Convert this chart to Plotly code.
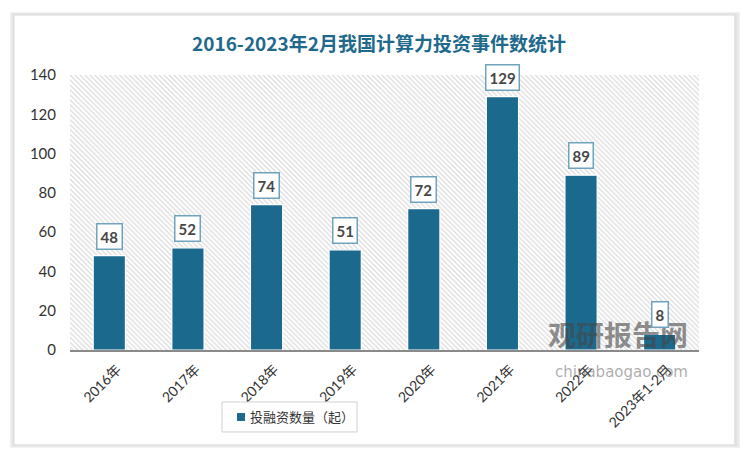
import plotly.graph_objects as go

categories = ["2016年", "2017年", "2018年", "2019年", "2020年", "2021年", "2022年", "2023年1-2月"]
values = [48, 52, 74, 51, 72, 129, 89, 8]
series_name = "投融资数量（起）"
title_text = "2016-2023年2月我国计算力投资事件数统计"
y_ticks = [0, 20, 40, 60, 80, 100, 120, 140]

BAR = "#1B6A8E"
FONT = "Lato, 'Noto Sans CJK SC', sans-serif"

fig = go.Figure()

# hatched plot background (base axes x/y, linear 0..1)
fig.add_trace(go.Bar(
    x=[0.5], y=[140], width=[1], xaxis="x", yaxis="y",
    marker=dict(color="white", line=dict(width=0),
                pattern=dict(shape="\\", fgcolor="#b8b8b8", bgcolor="white", size=3.5, solidity=0.35)),
    showlegend=False, hoverinfo="skip",
))

# data bars on overlaying category axis
fig.add_trace(go.Bar(
    x=categories, y=values, name=series_name, xaxis="x2", yaxis="y",
    width=0.41, showlegend=False,
    marker=dict(color=BAR, line=dict(color="white", width=1.2)),
))

# watermark (drawn first so labels sit above it)
fig.add_annotation(xref="paper", yref="paper", x=0.985, y=-0.02, xanchor="right", yanchor="bottom",
                   text="<b>观研报告网</b>", showarrow=False,
                   font=dict(family="'Noto Sans CJK SC'", size=28, color="rgba(70,70,70,0.6)"))
fig.add_annotation(xref="paper", yref="paper", x=0.985, y=-0.04, xanchor="right", yanchor="top",
                   text="chinabaogao.com", showarrow=False,
                   font=dict(family="'DejaVu Sans'", size=15, color="rgba(90,90,90,0.5)"))

for c, v in zip(categories, values):
    fig.add_annotation(
        x=c, y=v, xref="x2", yref="y", text=f"<b>{v}</b>", showarrow=False,
        yanchor="bottom", yshift=6,
        font=dict(family=FONT, size=15, color="#474747"),
        bgcolor="white", bordercolor="#6FA3BE", borderwidth=1.5, borderpad=3,
    )

# card background and shadow
shadow = [(-0.095, 1.228, 1.065, -0.355, "#ececec"), (-0.092, 1.224, 1.061, -0.350, "#e2e2e2")]
for x0, y0, x1, y1, col in shadow:
    fig.add_shape(type="rect", xref="paper", yref="paper", x0=x0, y0=y0, x1=x1, y1=y1,
                  fillcolor=col, line=dict(width=0), layer="below")
fig.add_shape(type="rect", xref="paper", yref="paper", x0=-0.089, y0=1.218, x1=1.057, y1=-0.345,
              fillcolor="white", line=dict(color="#dcdcdc", width=1), layer="below")

# custom legend box
fig.add_shape(type="rect", xref="paper", yref="paper", x0=0.2417, y0=-0.189, x1=0.4563, y1=-0.298,
              fillcolor="white", line=dict(color="#d0d0d0", width=1))
fig.add_shape(type="rect", xref="paper", yref="paper", x0=0.2655, y0=-0.229, x1=0.2782, y1=-0.258,
              fillcolor=BAR, line=dict(width=0))
fig.add_annotation(xref="paper", yref="paper", x=0.283, y=-0.2436, xanchor="left", yanchor="middle",
                   text=series_name, showarrow=False,
                   font=dict(family=FONT, size=13, color="#333333"))

fig.update_layout(
    width=742, height=452,
    margin=dict(l=62, r=51, t=67, b=110, autoexpand=False),
    paper_bgcolor="white", plot_bgcolor="rgba(0,0,0,0)",
    title=dict(text=f"<b>{title_text}</b>", x=0.5, xanchor="center", y=0.92, yanchor="middle",
               font=dict(family="'Noto Sans CJK SC'", size=19, color="#1F6A8C")),
    xaxis=dict(range=[0, 1], visible=False, fixedrange=True, automargin=False),
    xaxis2=dict(overlaying="x", side="bottom", type="category", tickangle=-45, automargin=False,
                tickfont=dict(family=FONT, size=14, color="#333333"),
                ticklabelshift=8, ticklabelstandoff=4,
                showline=True, linecolor="#8a8a8a", linewidth=1.5, ticks="", showgrid=False),
    yaxis=dict(range=[0, 140], tickvals=y_ticks, showgrid=False, zeroline=False, automargin=False,
               tickfont=dict(family=FONT, size=15, color="#333333"),
               ticks="outside", ticklen=10, tickcolor="rgba(0,0,0,0)", showline=False),
    barmode="overlay",
    showlegend=False,
)

fig.write_html("out.html")
